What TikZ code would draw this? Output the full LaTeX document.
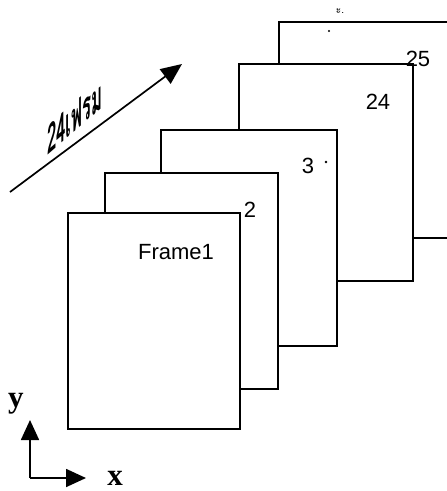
\documentclass[tikz,border=0pt]{standalone}
\usepackage{fontspec}
\setmainfont{Liberation Sans}
\newfontfamily\thaifont[Script=Thai]{Loma}
\newfontfamily\serifb{Liberation Serif}
\usetikzlibrary{arrows.meta}
\begin{document}
\begin{tikzpicture}[x=1pt,y=-1pt,
  frame/.style={draw, line width=1.7pt, fill=white, anchor=north west, inner sep=0pt, minimum width=#1},
  frame/.default=174pt,
  lbl/.style={font=\fontsize{22}{24}\selectfont, inner sep=0pt},
  axlbl/.style={font=\serifb\bfseries\fontsize{31}{33}\selectfont, inner sep=0pt},
  bigarrow/.style={line width=1.7pt, -{Triangle[length=21pt,width=18pt]}},
  axarrow/.style={line width=1.7pt, -{Triangle[length=20pt,width=18pt]}}]
\useasboundingbox (0,0) rectangle (447,491);
\begin{scope}
\clip (0,0) rectangle (447,491);
\node[frame=174pt, minimum height=216pt] (f25) at (278,21) {};
\node[frame=174pt, minimum height=217pt] (f24) at (238,63) {};
\node[frame=176pt, minimum height=216pt] (f3) at (160,129) {};
\node[frame=173pt, minimum height=216pt] (f2) at (104,172) {};
\node[frame=172pt, minimum height=216pt] (f1) at (67,212) {};
\end{scope}
\node[lbl] (t1) at (176,252) {Frame1};
\node[lbl] (t2) at (250,210) {2};
\node[lbl] (t3) at (308,166) {3};
\node[circle, fill, inner sep=0.9pt] (d3) at (326,162) {};
\node[lbl] (t24) at (378,102) {24};
\node[lbl] (t25) at (418,59) {25};
\node[circle, fill, inner sep=0.8pt] (d25) at (329,31) {};
\node[font=\thaifont\fontsize{10}{11}\selectfont, inner sep=0pt] (top) at (340,11) {ะ.};
% sequence arrow
\coordinate (a0) at (10,192);
\coordinate (a1) at (182,64);
\draw[bigarrow] (a0) -- (a1);
\node[yslant=0.87, xscale=0.6, yscale=1.45, font=\thaifont\bfseries\fontsize{28}{30}\selectfont, inner sep=0pt] (seq) at (75,117) {24เฟรม};
% axes
\coordinate (o) at (30,478);
\coordinate (ytip) at (30,420);
\coordinate (xtip) at (86,478);
\draw[axarrow] (o) -- (ytip);
\draw[axarrow] (o) -- (xtip);
\node[axlbl] (ylab) at (16,404) {y};
\node[axlbl] (xlab) at (115,478) {x};
\end{tikzpicture}
\end{document}
